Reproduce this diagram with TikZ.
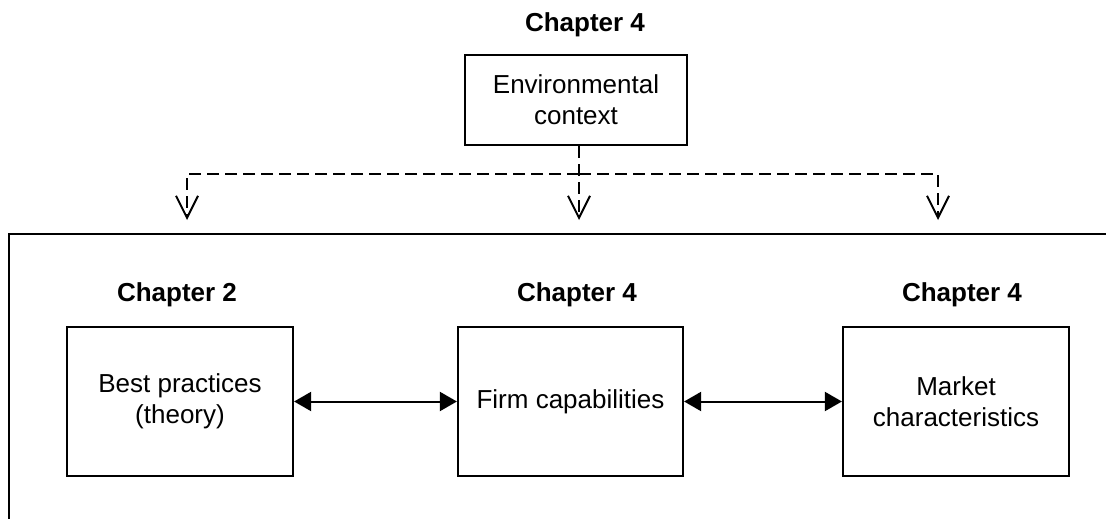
\documentclass[tikz,border=0pt]{standalone}
\usepackage{fontspec}
\setmainfont{Liberation Sans}
\usepackage{xcolor}
\usepackage{tikz}
\usetikzlibrary{arrows.meta,positioning}

\begin{document}
\begin{tikzpicture}[
                x=1pt,y=-1pt,
                font=\fontsize{26}{31}\selectfont,
                box/.style={
                    draw,
                    line width=2.2pt,
                    align=center,
                    inner sep=0pt
                },
                chap/.style={font=\fontsize{26}{31}\selectfont\bfseries},
                flow/.style={
                    line width=2pt,
                    dash pattern=on 12pt off 6pt
                },
                link/.style={
                    line width=2pt,
                    {Triangle[length=17pt,width=19pt]}-{Triangle[length=17pt,width=19pt]}
                }
            ]
                \clip (0,0) rectangle (1106,519);

                % outer frame, cut by the page
                \draw[line width=2.2pt] (1120,234) -| (9,540);

                % top
                \node[chap] (chapEnv) at (585,25) {Chapter 4};
                \node[box, minimum width=222pt, minimum height=90pt] (env) at (576,100) {Environmental\\context};

                % chapters in the frame
                \node[chap] (chapBest) at (177,295) {Chapter 2};
                \node[chap] (chapFirm) at (577,295) {Chapter 4};
                \node[chap] (chapMarket) at (962,295) {Chapter 4};

                \node[box, minimum width=226pt, minimum height=149pt] (best) at (180,401.5) {Best practices\\(theory)};
                \node[box, minimum width=225pt, minimum height=149pt] (firm) at (570.5,401.5) {Firm capabilities};
                \node[box, minimum width=226pt, minimum height=149pt] (market) at (956,401.5) {Market\\characteristics};

                % dashed split
                \coordinate (split) at ([xshift=3pt]env.south |- 0,174);
                \coordinate (tipL) at (187,220);
                \coordinate (tipM) at ([xshift=3pt]env.south |- 0,220);
                \coordinate (tipR) at (938,220);

                \draw[flow, -{Straight Barb[length=22pt,width=22pt]}] ([xshift=3pt]env.south) -- (tipM);
                \draw[flow, -{Straight Barb[length=22pt,width=22pt]}] (split) -| (tipL);
                \draw[flow, -{Straight Barb[length=22pt,width=22pt]}] (split) -| (tipR);

                % links
                \draw[link] (best.east) -- (firm.west);
                \draw[link] (firm.east) -- (market.west);

            \end{tikzpicture}
\end{document}
